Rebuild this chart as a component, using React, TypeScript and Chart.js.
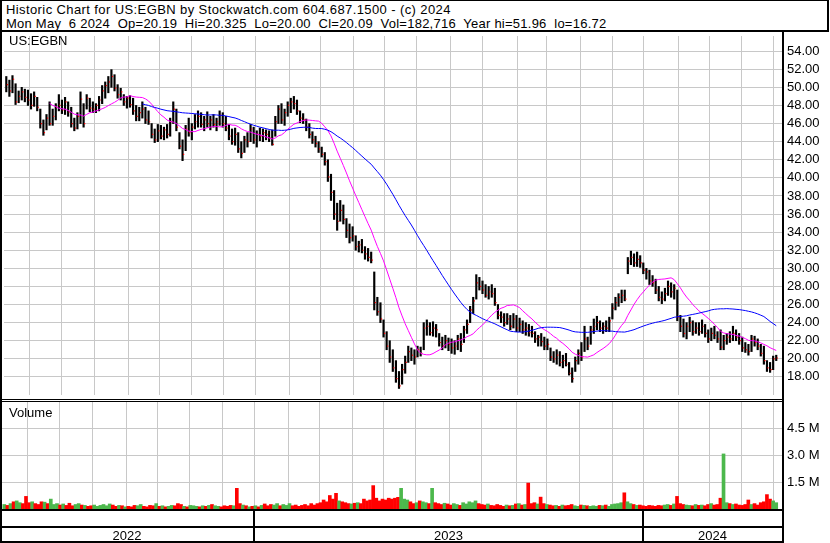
import React, { useEffect, useRef } from 'react';
import { Chart, registerables } from 'chart.js';

Chart.register(...registerables);

const FONT = "'Liberation Sans', Arial, Helvetica, sans-serif";

// US:EGBN price bars, two trading sessions per bar (mid-May 2022 .. May 6 2024)
const highs = [
  51.2, 50.8, 51.3, 50.4, 49.6, 50.0, 49.8, 49.7, 49.3, 49.5,
  48.9, 47.6, 46.4, 47.0, 48.4, 47.6, 48.2, 49.2, 48.6, 48.9,
  48.4, 47.8, 46.6, 47.2, 49.5, 48.2, 49.2, 48.8, 48.4, 48.2,
  49.0, 50.2, 50.6, 51.2, 51.96, 51.4, 50.3, 49.9, 49.2, 49.0,
  49.1, 48.8, 48.0, 47.8, 48.4, 47.8, 47.4, 46.0, 45.4, 45.9,
  45.8, 45.6, 45.9, 46.6, 48.4, 47.6, 45.0, 44.2, 45.8, 46.6,
  46.0, 47.0, 47.4, 47.2, 46.8, 47.3, 46.8, 47.0, 46.6, 47.4,
  47.2, 46.8, 45.9, 45.4, 45.5, 45.0, 44.0, 44.6, 45.0, 45.9,
  45.6, 45.2, 45.5, 45.4, 45.3, 45.2, 45.3, 46.8, 48.0, 48.2,
  47.6, 48.4, 48.8, 49.0, 48.6, 47.4, 47.1, 46.5, 46.0, 45.1,
  44.6, 44.0, 43.4, 42.8, 42.0, 40.4, 38.6, 37.2, 37.5, 37.0,
  35.5, 34.9, 34.6, 33.6, 33.0, 33.2, 32.4, 32.2, 31.8, 29.6,
  26.8, 26.2, 24.3, 23.0, 22.0, 21.0, 19.8, 18.6, 19.4, 20.3,
  21.4, 21.2, 21.0, 21.4, 21.3, 24.0, 24.3, 24.0, 24.1, 23.8,
  22.8, 22.4, 22.6, 22.3, 22.2, 22.0, 22.6, 22.8, 23.6, 24.3,
  25.8, 26.8, 29.3, 29.0, 28.6, 28.2, 28.0, 28.2, 27.8, 26.0,
  25.2, 25.0, 25.0, 24.8, 25.0, 24.8, 24.5, 24.2, 24.0, 23.8,
  23.6, 23.0, 22.6, 22.8, 22.4, 22.2, 21.2, 20.8, 21.0, 20.8,
  20.4, 20.6, 19.6, 19.0, 20.2, 21.0, 21.8, 23.6, 22.4, 23.6,
  24.4, 24.7, 24.2, 24.0, 24.2, 24.6, 26.1, 26.8, 27.2, 27.6,
  27.6, 31.2, 31.9, 31.6, 31.8, 31.4, 30.6, 30.0, 29.8, 29.2,
  28.8, 28.0, 27.4, 27.8, 28.6, 28.4, 28.2, 27.6, 24.8, 24.4,
  24.0, 24.6, 24.2, 24.0, 24.0, 24.3, 23.8, 23.2, 23.4, 23.6,
  23.0, 23.2, 22.6, 22.8, 23.0, 23.6, 23.2, 22.8, 22.4, 21.8,
  21.6, 22.6, 22.5, 22.2, 21.6, 21.4, 19.8, 19.6, 20.3, 20.4,
];

const lows = [
  49.5, 49.0, 49.4, 48.1, 48.3, 48.6, 48.4, 48.0, 47.6, 47.9,
  47.4, 45.5, 44.7, 45.3, 45.8, 45.8, 46.4, 47.4, 47.1, 47.0,
  46.8, 45.6, 45.2, 45.4, 46.0, 45.6, 47.6, 47.3, 47.2, 47.2,
  47.4, 48.2, 48.8, 49.4, 50.0, 49.6, 48.8, 48.6, 48.0, 47.7,
  47.8, 47.0, 46.3, 46.3, 46.6, 46.0, 45.9, 44.4, 43.9, 44.0,
  44.3, 44.2, 44.4, 44.6, 46.0, 45.2, 43.2, 41.9, 43.0, 44.6,
  44.2, 45.4, 45.6, 45.6, 45.2, 45.6, 45.3, 45.6, 45.2, 45.8,
  45.6, 45.2, 44.2, 43.7, 43.6, 42.8, 42.2, 42.8, 43.4, 44.0,
  43.8, 43.4, 44.1, 44.0, 44.2, 44.0, 43.6, 44.6, 46.0, 46.0,
  45.8, 46.8, 47.2, 47.6, 47.0, 46.1, 46.0, 45.2, 44.4, 43.8,
  43.4, 42.8, 42.3, 41.4, 39.6, 37.5, 35.4, 34.2, 35.2, 34.9,
  33.4, 32.8, 33.0, 32.0, 31.8, 31.7, 31.0, 30.8, 30.6, 25.4,
  24.8, 24.0, 22.4, 21.0, 19.6, 18.6, 17.4, 16.72, 17.2, 18.4,
  19.6, 19.8, 19.4, 20.2, 20.3, 21.0, 22.6, 22.6, 22.5, 22.4,
  21.4, 21.0, 21.2, 20.9, 20.6, 20.5, 21.0, 20.8, 21.8, 22.8,
  24.0, 25.0, 26.6, 27.6, 27.2, 26.8, 26.6, 26.8, 25.9, 24.4,
  24.0, 23.6, 23.8, 23.2, 23.4, 23.0, 23.0, 22.8, 22.6, 22.5,
  22.4, 21.8, 21.4, 21.4, 21.0, 21.0, 19.8, 19.6, 19.4, 19.2,
  19.0, 19.2, 18.2, 17.4, 18.6, 19.4, 19.8, 20.8, 21.0, 21.6,
  22.8, 23.2, 23.0, 22.8, 23.0, 23.0, 24.4, 25.4, 25.8, 26.2,
  26.4, 29.4, 30.4, 30.2, 30.2, 30.1, 29.4, 28.8, 28.2, 28.0,
  27.2, 26.4, 26.1, 26.4, 27.0, 26.8, 26.6, 24.2, 23.0, 22.4,
  22.2, 23.0, 22.6, 22.8, 22.6, 22.8, 22.4, 21.8, 22.0, 22.2,
  21.8, 21.0, 21.0, 21.6, 21.8, 22.0, 22.0, 21.6, 20.8, 20.7,
  20.4, 20.8, 21.4, 21.0, 20.3, 19.4, 18.6, 18.5, 18.8, 19.8,
];

const closes = [
  50.3, 49.6, 50.9, 48.4, 49.0, 49.5, 48.9, 48.6, 48.0, 49.0,
  47.8, 46.0, 45.0, 46.6, 46.0, 46.8, 47.8, 48.0, 47.5, 48.4,
  47.3, 46.0, 45.5, 46.8, 48.7, 46.0, 48.8, 47.7, 47.6, 48.0,
  48.6, 49.6, 50.2, 50.6, 51.2, 49.9, 49.2, 49.5, 48.4, 48.8,
  48.1, 47.4, 46.8, 47.2, 47.6, 46.4, 46.2, 44.8, 44.2, 45.2,
  44.6, 45.3, 44.8, 46.2, 47.6, 45.6, 43.5, 42.6, 45.4, 45.0,
  45.6, 46.2, 46.8, 45.9, 46.4, 46.0, 46.4, 45.9, 46.2, 46.9,
  46.0, 45.5, 44.6, 44.0, 44.8, 43.2, 42.7, 44.2, 44.0, 45.4,
  44.2, 44.8, 44.6, 45.0, 44.8, 44.4, 43.7, 46.2, 47.6, 46.4,
  47.2, 48.0, 48.4, 48.2, 47.4, 46.6, 46.4, 45.6, 44.8, 44.2,
  43.8, 43.2, 42.6, 41.8, 40.1, 38.4, 36.0, 35.2, 36.4, 35.4,
  34.2, 33.4, 33.6, 32.4, 32.6, 32.0, 31.6, 31.2, 30.9, 26.2,
  25.2, 24.4, 22.8, 21.4, 20.2, 19.0, 17.8, 17.0, 18.8, 19.6,
  20.8, 20.4, 20.2, 21.0, 20.6, 23.4, 23.6, 22.9, 23.4, 23.2,
  21.8, 21.4, 22.0, 21.6, 21.2, 21.4, 22.2, 21.6, 23.2, 23.8,
  25.4, 26.4, 28.4, 28.0, 27.6, 27.0, 27.4, 27.2, 26.2, 24.8,
  24.6, 24.0, 24.4, 23.6, 24.4, 23.4, 23.8, 23.2, 23.4, 22.9,
  22.8, 22.2, 22.4, 21.9, 21.4, 21.6, 20.2, 20.0, 20.4, 19.6,
  19.8, 19.4, 18.4, 17.8, 19.8, 20.6, 20.2, 22.2, 21.4, 23.2,
  23.6, 24.0, 23.4, 23.6, 23.4, 24.2, 25.6, 26.2, 26.8, 27.0,
  26.6, 30.8, 31.2, 30.6, 31.0, 30.6, 29.8, 29.6, 28.6, 28.4,
  27.6, 26.8, 26.6, 27.2, 28.0, 27.4, 27.8, 24.6, 23.6, 22.8,
  23.6, 24.0, 23.0, 23.4, 23.0, 23.6, 22.8, 22.2, 22.8, 22.6,
  22.2, 21.3, 22.0, 22.4, 22.2, 22.8, 22.4, 22.0, 21.2, 21.0,
  20.8, 22.2, 21.8, 21.4, 20.6, 19.8, 19.0, 18.8, 20.0, 20.09,
];

// daily volume, millions of shares
const volumes = [
  0.25, 0.20, 0.30, 0.40, 0.45, 0.35, 0.30, 0.70, 0.35, 0.40,
  0.30, 0.25, 0.40, 0.38, 0.30, 0.55, 0.25, 0.30, 0.22, 0.28,
  0.20, 0.32, 0.18, 0.25, 0.30, 0.22, 0.20, 0.15, 0.18, 0.22,
  0.15, 0.20, 0.25, 0.18, 0.28, 0.22, 0.15, 0.20, 0.18, 0.12,
  0.15, 0.12, 0.20, 0.18, 0.25, 0.15, 0.12, 0.20, 0.18, 0.30,
  0.15, 0.18, 0.12, 0.15, 0.20, 0.18, 0.30, 0.25, 0.15, 0.12,
  0.20, 0.18, 0.15, 0.12, 0.18, 0.15, 0.20, 0.25, 0.18, 0.15,
  0.12, 0.18, 0.15, 0.20, 0.18, 1.15, 0.30, 0.22, 0.18, 0.12,
  0.15, 0.18, 0.12, 0.20, 0.28, 0.18, 0.25, 0.22, 0.30, 0.18,
  0.25, 0.20, 0.30, 0.18, 0.22, 0.15, 0.20, 0.25, 0.18, 0.30,
  0.22, 0.30, 0.35, 0.50, 0.40, 0.75, 0.55, 0.87, 0.45, 0.40,
  0.35, 0.30, 0.28, 0.32, 0.35, 0.30, 0.55, 0.45, 0.50, 1.30,
  0.60, 0.45, 0.55, 0.50, 0.60, 0.55, 0.60, 0.65, 1.15, 0.55,
  0.50, 0.40, 0.30, 0.35, 0.45, 0.40, 0.35, 0.30, 1.15, 0.35,
  0.30, 0.25, 0.32, 0.28, 0.22, 0.30, 0.25, 0.20, 0.35, 0.28,
  0.40, 0.35, 0.45, 0.30, 0.25, 0.22, 0.28, 0.20, 0.18, 0.25,
  0.20, 0.15, 0.22, 0.18, 0.20, 0.28, 0.30, 0.22, 0.25, 1.44,
  0.30, 0.35, 0.28, 0.66, 0.30, 0.25, 0.22, 0.18, 0.20, 0.15,
  0.22, 0.18, 0.20, 0.25, 0.18, 0.15, 0.22, 0.20, 0.18, 0.15,
  0.18, 0.15, 0.20, 0.18, 0.22, 0.15, 0.25, 0.28, 0.30, 0.35,
  0.90, 0.40, 0.30, 0.25, 0.20, 0.22, 0.18, 0.15, 0.20, 0.18,
  0.15, 0.20, 0.18, 0.22, 0.25, 0.20, 0.28, 0.70, 0.30, 0.25,
  0.22, 0.20, 0.18, 0.25, 0.20, 0.22, 0.18, 0.25, 0.30, 0.22,
  0.25, 0.60, 3.06, 0.35, 0.30, 0.25, 0.28, 0.22, 0.20, 0.25,
  0.50, 0.25, 0.30, 0.22, 0.35, 0.40, 0.80, 0.55, 0.45, 0.35,
];

// month boundaries, in bar-index units
const monthStarts = [
  7.3, 17.65, 28.3, 39.25, 49.25, 59.6, 70.2, 80.55, 91.5, 101.5, 112.2, 122.2,
  132.5, 143.45, 153.8, 165.05, 174.7, 185.4, 196.0, 206.0, 217.3, 227.3, 237.6, 247.9,
];
const yearStarts = [80.55, 206.0];
const yearLabels = ['2022', '2023', '2024'];

const priceTicks = [18, 20, 22, 24, 26, 28, 30, 32, 34, 36, 38, 40, 42, 44, 46, 48, 50, 52, 54];
const volumeTicks = [1.5, 3.0, 4.5];

const headerLine1 = 'Historic Chart for US:EGBN by Stockwatch.com 604.687.1500 - (c) 2024';
const headerLine2 =
  'Mon May  6 2024  Op=20.19  Hi=20.325  Lo=20.00  Cl=20.09  Vol=182,716  Year hi=51.96  lo=16.72';

const FAST_WINDOW = 15; // 30 sessions
const SLOW_WINDOW = 45; // 90 sessions

const X_MIN = -0.74;
const X_MAX = 250.86;
const GRID = '#c8c8c8';
const UP = '#4cb84c';
const DOWN = '#ff0000';
const FLAT = '#a0a0a0';

function movingAverage(values: number[], win: number) {
  const pts: { x: number; y: number }[] = [];
  let sum = 0;
  values.forEach((v, i) => {
    sum += v;
    if (i >= win) sum -= values[i - win];
    if (i >= win - 1) pts.push({ x: i, y: sum / win });
  });
  return pts;
}

function timeAxis() {
  return {
    type: 'linear' as const,
    min: X_MIN,
    max: X_MAX,
    offset: false,
    ticks: { display: false },
    grid: { display: false, drawTicks: false, offset: false },
    border: { display: false },
    afterFit: (s: any) => {
      s.height = 0;
      s.paddingLeft = 0;
      s.paddingRight = 0;
      s.paddingTop = 0;
      s.paddingBottom = 0;
    },
  };
}

// vertical month lines, placed through the x scale
const monthGridPlugin = {
  id: 'monthGrid',
  beforeDatasetsDraw(chart: any) {
    const { ctx, chartArea, scales } = chart;
    ctx.save();
    ctx.strokeStyle = GRID;
    ctx.lineWidth = 1;
    ctx.beginPath();
    monthStarts.forEach((v) => {
      const px = Math.round(scales.x.getPixelForValue(v)) + 0.5;
      ctx.moveTo(px, chartArea.top);
      ctx.lineTo(px, chartArea.bottom);
    });
    ctx.stroke();
    ctx.restore();
  },
};

const yearRowPlugin = {
  id: 'yearRow',
  afterDraw(chart: any) {
    const { ctx, chartArea, scales } = chart;
    const xs = scales.x;
    const top = chartArea.bottom;
    const right = chartArea.right;
    const seps = yearStarts.map((v) => Math.round(xs.getPixelForValue(v)));
    const bounds = [0, ...seps, right];
    ctx.save();
    ctx.fillStyle = '#000';
    ctx.fillRect(0, top, right, 2);
    ctx.fillRect(0, top + 17, right, 2);
    ctx.fillRect(0, top + 32, right, 2);
    seps.forEach((sx) => ctx.fillRect(sx - 1, top, 2, 33));
    ctx.font = `13px ${FONT}`;
    ctx.textAlign = 'center';
    ctx.textBaseline = 'alphabetic';
    yearLabels.forEach((label, i) => {
      ctx.fillText(label, (bounds[i] + bounds[i + 1]) / 2, top + 31);
    });
    ctx.restore();
  },
};

export default function App() {
  const priceRef = useRef<HTMLCanvasElement>(null);
  const volRef = useRef<HTMLCanvasElement>(null);

  useEffect(() => {
    Chart.defaults.font.family = FONT;
    Chart.defaults.font.size = 13;

    const bars = closes.map((_, i) => ({ x: i, y: [lows[i], highs[i]] }));
    const closeMarks = closes.map((c, i) => ({ x: i + 0.35, y: c }));

    const price = new Chart(priceRef.current!, {
      type: 'bar',
      data: {
        datasets: [
          {
            type: 'line',
            data: movingAverage(closes, SLOW_WINDOW),
            borderColor: '#0000ff',
            borderWidth: 1,
            pointRadius: 0,
            tension: 0,
            order: 0,
          } as any,
          {
            type: 'line',
            data: movingAverage(closes, FAST_WINDOW),
            borderColor: '#ff00ff',
            borderWidth: 1,
            pointRadius: 0,
            tension: 0,
            order: 1,
          } as any,
          {
            type: 'scatter',
            data: closeMarks,
            pointStyle: 'rect',
            pointRadius: 0.85,
            backgroundColor: DOWN,
            borderWidth: 0,
            order: 2,
          } as any,
          {
            type: 'bar',
            data: bars,
            backgroundColor: '#000',
            borderWidth: 0,
            barThickness: 1.5,
            order: 3,
          } as any,
        ],
      },
      options: {
        animation: false,
        responsive: false,
        events: [],
        layout: { padding: { left: 2, right: 0, top: 0, bottom: 0 } },
        plugins: { legend: { display: false }, tooltip: { enabled: false }, title: { display: false } },
        scales: {
          x: timeAxis() as any,
          y: {
            position: 'right',
            min: 16,
            max: 16 + 367 / 9.25,
            afterBuildTicks: (s: any) => {
              s.ticks = priceTicks.map((value) => ({ value }));
            },
            ticks: {
              callback: (v: any) => Number(v).toFixed(2),
              color: '#000',
              padding: 5,
              font: { family: FONT, size: 13 },
            },
            grid: { color: GRID, lineWidth: 1, drawTicks: false },
            border: { display: false },
            afterFit: (s: any) => {
              s.width = 48;
              s.paddingTop = 0;
              s.paddingBottom = 0;
            },
          } as any,
        },
      },
      plugins: [monthGridPlugin],
    });

    const volColors = volumes.map((_, i) => {
      if (i === 0) return UP;
      if (closes[i] > closes[i - 1]) return UP;
      if (closes[i] < closes[i - 1]) return DOWN;
      return FLAT;
    });

    const volume = new Chart(volRef.current!, {
      type: 'bar',
      data: {
        datasets: [
          {
            data: volumes.map((v, i) => ({ x: i, y: v })),
            backgroundColor: volColors,
            borderWidth: 0,
            barThickness: 3,
          } as any,
        ],
      },
      options: {
        animation: false,
        responsive: false,
        events: [],
        layout: { padding: { left: 2, right: 0, top: 0, bottom: 34 } },
        plugins: { legend: { display: false }, tooltip: { enabled: false } },
        scales: {
          x: timeAxis() as any,
          y: {
            position: 'right',
            min: 0,
            max: 107 / 18,
            afterBuildTicks: (s: any) => {
              s.ticks = volumeTicks.map((value) => ({ value }));
            },
            ticks: {
              callback: (v: any) => `${Number(v).toFixed(1)} M`,
              color: '#000',
              padding: 5,
              font: { family: FONT, size: 13 },
            },
            grid: { color: GRID, lineWidth: 1, drawTicks: false },
            border: { display: false },
            afterFit: (s: any) => {
              s.width = 48;
              s.paddingTop = 0;
              s.paddingBottom = 0;
            },
          } as any,
        },
      },
      plugins: [monthGridPlugin, yearRowPlugin],
    });

    return () => {
      price.destroy();
      volume.destroy();
    };
  }, []);

  const line = (left: number, top: number, width: number, height: number) => (
    <div style={{ position: 'absolute', left, top, width, height, background: '#000' }} />
  );

  return (
    <div
      style={{
        position: 'absolute',
        left: 0,
        top: 0,
        width: 830,
        height: 543,
        background: '#fff',
        overflow: 'hidden',
        fontFamily: FONT,
        color: '#000',
      }}
    >
      <div style={{ position: 'absolute', left: 6, top: 3, fontSize: 13, lineHeight: '14px', whiteSpace: 'pre' }}>
        <div style={{ letterSpacing: '0.4px' }}>{headerLine1}</div>
        <div style={{ letterSpacing: '0.24px' }}>{headerLine2}</div>
      </div>
      <canvas
        ref={priceRef}
        width={830}
        height={367}
        style={{ position: 'absolute', left: 0, top: 32, display: 'block' }}
      />
      <canvas
        ref={volRef}
        width={830}
        height={141}
        style={{ position: 'absolute', left: 0, top: 402, display: 'block' }}
      />
      <div style={{ position: 'absolute', left: 9, top: 34, fontSize: 13, lineHeight: '14px' }}>US:EGBN</div>
      <div style={{ position: 'absolute', left: 9, top: 406, fontSize: 13, lineHeight: '14px' }}>Volume</div>
      {line(0, 0, 829, 1)}
      {line(827, 0, 2, 31)}
      {line(0, 0, 2, 543)}
      {line(0, 30, 829, 2)}
      {line(782, 30, 2, 513)}
      {line(0, 399, 784, 1)}
      {line(0, 401, 784, 1)}
    </div>
  );
}
